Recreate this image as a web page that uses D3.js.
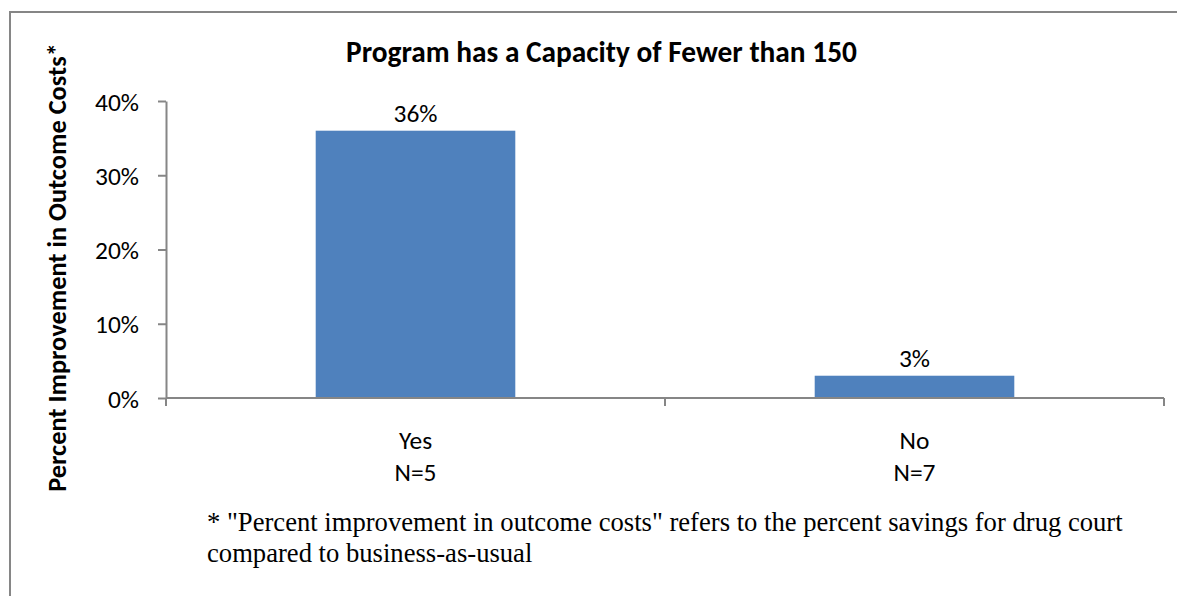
<!DOCTYPE html>
<html>
<head>
<meta charset="utf-8">
<script src="https://cdn.jsdelivr.net/npm/d3@7/dist/d3.min.js"></script>
<style>
  html, body { margin: 0; padding: 0; background: #fff; }
  svg { display: block; }
</style>
</head>
<body>
<svg id="chart" width="1177" height="596"></svg>
<script>
// ---- data ----
const categories = ["Yes", "No"];
const sampleSizes = ["N=5", "N=7"];
const values = [0.36, 0.03];
const valueLabels = ["36%", "3%"];
const yTicks = [0, 0.1, 0.2, 0.3, 0.4];
const titleText = "Program has a Capacity of Fewer than 150";
const yTitleText = "Percent Improvement in Outcome Costs*";
const footnoteLines = [
  "* \"Percent improvement in outcome costs\" refers to the percent savings for drug court",
  "compared to business-as-usual"
];

// ---- layout ----
const W = 1177, H = 596;
const plot = { left: 166, right: 1164, top: 101, bottom: 398 };
const sansFont = "Carlito, Lato, 'Open Sans', sans-serif";
const serifFont = "'Liberation Serif', 'Times New Roman', serif";
const gray = "#868686";
const barColor = "#4F81BD";

const svg = d3.select("#chart");

// fit font size to a target width
function fit(sel, target) {
  const s0 = 20;
  sel.attr("font-size", s0);
  const w = sel.node().getComputedTextLength();
  const s = s0 * target / w;
  sel.attr("font-size", s);
  return s;
}

// outer border (top and left visible)
svg.append("path")
  .attr("d", `M10,${H} V12 H${W}`)
  .attr("fill", "none").attr("stroke", gray).attr("stroke-width", 2);

const x = d3.scaleBand().domain(categories).range([plot.left, plot.right]).paddingInner(0.6).paddingOuter(0.3);
const xb = d3.scaleBand().domain(categories).range([plot.left, plot.right]);
const y = d3.scaleLinear().domain([0, 0.4]).range([plot.bottom, plot.top]);

// bars
svg.selectAll("rect.bar").data(values).enter().append("rect")
  .attr("class", "bar")
  .attr("x", (d, i) => x(categories[i]))
  .attr("width", x.bandwidth())
  .attr("y", d => y(d))
  .attr("height", d => y(0) - y(d))
  .attr("fill", barColor);

// y axis
const yAxis = d3.axisLeft(y).tickValues(yTicks).tickFormat(d3.format(".0%")).tickSize(8).tickSizeOuter(0);
const gy = svg.append("g").attr("transform", `translate(${plot.left},0)`).call(yAxis);
gy.select(".domain").attr("stroke", gray).attr("stroke-width", 2);
gy.selectAll(".tick line").attr("stroke", gray).attr("stroke-width", 2);
gy.selectAll(".tick text").attr("fill", "#000").attr("font-family", sansFont).attr("x", -27).attr("dy", "0.36em");
const tickSize = fit(gy.selectAll(".tick text").filter(d => d === 0.4), 44);
gy.selectAll(".tick text").attr("font-size", tickSize);

// x axis line with boundary ticks
const gx = svg.append("g").attr("transform", `translate(0,${plot.bottom})`);
gx.append("line").attr("x1", plot.left).attr("x2", plot.right).attr("y1", 0).attr("y2", 0)
  .attr("stroke", gray).attr("stroke-width", 2);
const boundaries = categories.map(c => xb(c)).concat([xb(categories[categories.length - 1]) + xb.bandwidth()]);
gx.selectAll("line.bt").data(boundaries).enter().append("line")
  .attr("class", "bt")
  .attr("x1", d => d).attr("x2", d => d).attr("y1", 0).attr("y2", 8)
  .attr("stroke", gray).attr("stroke-width", 2);

// category labels
const catG = svg.append("g");
categories.forEach((c, i) => {
  const cx = xb(c) + xb.bandwidth() / 2;
  const t1 = catG.append("text").attr("x", cx).attr("y", 449).attr("text-anchor", "middle")
    .attr("font-family", sansFont).attr("fill", "#000").text(c);
  t1.attr("font-size", tickSize);
  catG.append("text").attr("x", cx).attr("y", 481).attr("text-anchor", "middle")
    .attr("font-family", sansFont).attr("fill", "#000").attr("font-size", tickSize).text(sampleSizes[i]);
});

// value labels
svg.selectAll("text.vl").data(values).enter().append("text")
  .attr("class", "vl")
  .attr("x", (d, i) => x(categories[i]) + x.bandwidth() / 2)
  .attr("y", d => y(d) - 9)
  .attr("text-anchor", "middle")
  .attr("font-family", sansFont).attr("font-size", tickSize).attr("fill", "#000")
  .text((d, i) => valueLabels[i]);

// title
const title = svg.append("text").attr("x", 601.5).attr("y", 62).attr("text-anchor", "middle")
  .attr("font-family", sansFont).attr("font-weight", "bold").attr("fill", "#000").text(titleText);
fit(title, 511);

// y title
const yt = svg.append("text")
  .attr("transform", `translate(66,${(43 + 492) / 2}) rotate(-90)`)
  .attr("text-anchor", "middle")
  .attr("font-family", sansFont).attr("font-weight", "bold").attr("fill", "#000").text(yTitleText);
fit(yt, 449);

// footnote
const fn = svg.append("g");
const fl1 = fn.append("text").attr("x", 207).attr("y", 531).attr("font-family", serifFont).attr("fill", "#000").text(footnoteLines[0]);
const fnSize = fit(fl1, 916);
fn.append("text").attr("x", 207).attr("y", 562).attr("font-family", serifFont).attr("fill", "#000")
  .attr("font-size", fnSize).text(footnoteLines[1]);
</script>
</body>
</html>
